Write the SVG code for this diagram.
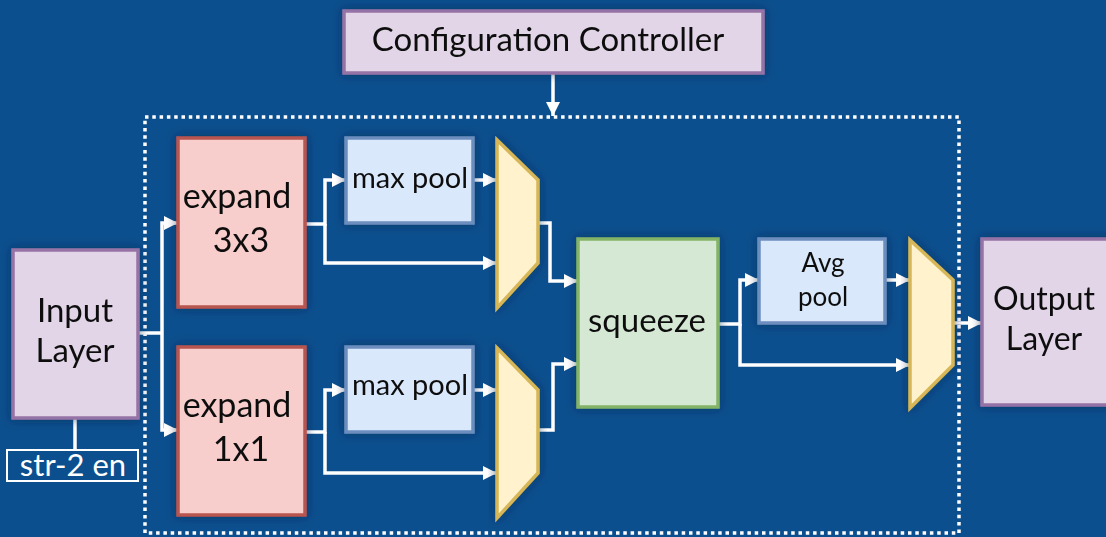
<svg xmlns="http://www.w3.org/2000/svg" width="1106" height="537" viewBox="0 0 1106 537">
  <defs>
    <style>
      .lbl { font-family: Lato, "Liberation Sans", sans-serif; fill: #111111; text-anchor: middle; }
      .purple { fill: #e1d5e7; stroke: #9673a6; stroke-width: 3.5; }
      .red { fill: #f8cecc; stroke: #b85450; stroke-width: 3.5; }
      .blue { fill: #dae8fc; stroke: #6c8ebf; stroke-width: 3.5; }
      .green { fill: #d5e8d4; stroke: #82b366; stroke-width: 3.5; }
      .mux { fill: #fff2cc; stroke: #d6b656; stroke-width: 3.5; stroke-linejoin: miter; }
      .wire { fill: none; stroke: #ffffff; stroke-width: 3.5; stroke-linejoin: miter; }
      .arrow { marker-end: url(#head); }
    </style>
    <marker id="head" markerUnits="userSpaceOnUse" markerWidth="15" markerHeight="15" refX="14" refY="7" orient="auto">
      <path d="M0,0 L14,7 L0,14 z" fill="#ffffff"/>
    </marker>
    <filter id="shade" x="-20%" y="-20%" width="140%" height="140%">
      <feDropShadow dx="0" dy="0" stdDeviation="5" flood-color="#001a3d" flood-opacity="0.55"/>
    </filter>
  </defs>

  <!-- background -->
  <rect x="0" y="0" width="1106" height="537" fill="#0c4f8e"/>

  <!-- dotted frame around the configurable core -->
  <rect x="145" y="117" width="814" height="416" fill="none" stroke="#ffffff" stroke-width="3.5" stroke-dasharray="3.5 3.8"/>

  <!-- connectors -->
  <g id="connectors">
    <path class="wire arrow" d="M553,73 V116"/>
    <path class="wire" d="M138,333 H162"/>
    <path class="wire arrow" d="M162,333 V223 H178"/>
    <path class="wire arrow" d="M162,333 V430 H178"/>
    <path class="wire" d="M75,418 V450" stroke-width="5"/>

    <path class="wire arrow" d="M305,224 H325 V180 H346"/>
    <path class="wire arrow" d="M325,224 V263 H497"/>
    <path class="wire arrow" d="M473,180 H497"/>
    <path class="wire arrow" d="M538,223 H550 V281 H578"/>

    <path class="wire arrow" d="M305,432 H325 V390 H346"/>
    <path class="wire arrow" d="M325,432 V473 H497"/>
    <path class="wire arrow" d="M473,390 H497"/>
    <path class="wire arrow" d="M538,430 H553 V364 H578"/>

    <path class="wire arrow" d="M718,324 H740 V280 H759"/>
    <path class="wire arrow" d="M740,324 V365 H910"/>
    <path class="wire arrow" d="M885,280 H910"/>
    <path class="wire arrow" d="M953,323 H982"/>
  </g>

  <g id="config-controller" filter="url(#shade)">
    <rect class="purple" x="344" y="11" width="419" height="62"/>
    <text class="lbl" x="548" y="51" font-size="33">Configuration Controller</text>
  </g>

  <g id="input-layer" filter="url(#shade)">
    <rect class="purple" x="13" y="250" width="125" height="168"/>
    <text class="lbl" x="75" y="322" font-size="33">Input</text>
    <text class="lbl" x="75" y="362" font-size="33">Layer</text>
  </g>

  <g id="stride-enable">
    <rect x="7" y="450" width="131" height="31" fill="none" stroke="#ffffff" stroke-width="2"/>
    <text class="lbl" x="73" y="476" font-size="31" style="fill:#ffffff">str-2 en</text>
  </g>

  <g id="expand-3x3" filter="url(#shade)">
    <rect class="red" x="178" y="138" width="127" height="169"/>
    <text class="lbl" x="237" y="208" font-size="34">expand</text>
    <text class="lbl" x="241" y="252" font-size="34">3x3</text>
  </g>

  <g id="expand-1x1" filter="url(#shade)">
    <rect class="red" x="178" y="347" width="127" height="168"/>
    <text class="lbl" x="237" y="417" font-size="34">expand</text>
    <text class="lbl" x="241" y="461" font-size="34">1x1</text>
  </g>

  <g id="max-pool-top" filter="url(#shade)">
    <rect class="blue" x="346" y="138" width="127" height="85"/>
    <text class="lbl" x="410" y="188" font-size="29">max pool</text>
  </g>

  <g id="max-pool-bottom" filter="url(#shade)">
    <rect class="blue" x="346" y="347" width="127" height="85"/>
    <text class="lbl" x="410" y="395" font-size="29">max pool</text>
  </g>

  <g id="mux-top" filter="url(#shade)">
    <polygon class="mux" points="497,140 538,180 538,263 497,308"/>
  </g>

  <g id="mux-bottom" filter="url(#shade)">
    <polygon class="mux" points="497,348 538,390 538,473 497,518"/>
  </g>

  <g id="squeeze" filter="url(#shade)">
    <rect class="green" x="578" y="239" width="140" height="168"/>
    <text class="lbl" x="647" y="332" font-size="33">squeeze</text>
  </g>

  <g id="avg-pool" filter="url(#shade)">
    <rect class="blue" x="759" y="239" width="126" height="84"/>
    <text class="lbl" x="823" y="272" font-size="26">Avg</text>
    <text class="lbl" x="823" y="306" font-size="26">pool</text>
  </g>

  <g id="mux-out" filter="url(#shade)">
    <polygon class="mux" points="910,240 953,280 953,365 910,408"/>
  </g>

  <g id="output-layer" filter="url(#shade)">
    <rect class="purple" x="982" y="239" width="140" height="166"/>
    <text class="lbl" x="1044" y="310" font-size="32">Output</text>
    <text class="lbl" x="1044" y="350" font-size="32">Layer</text>
  </g>
</svg>
